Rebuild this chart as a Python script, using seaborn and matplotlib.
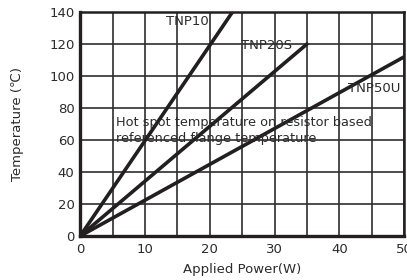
import pandas as pd
import matplotlib.pyplot as plt
import seaborn as sns

# end points of the three derating lines (W, degC)
series = ["TNP10", "TNP20S", "TNP50U"]
power_w = [[0, 23.5], [0, 35], [0, 50]]
temp_c = [[0, 140], [0, 120], [0, 112]]

x_ticks = [0, 10, 20, 30, 40, 50]
y_ticks = [0, 20, 40, 60, 80, 100, 120, 140]
note = "Hot spot temperature on resistor based\nreferenced flange temperature"

rows = []
for name, xs, ys in zip(series, power_w, temp_c):
    for x, y in zip(xs, ys):
        rows.append({"Series": name, "Power": x, "Temp": y})
df = pd.DataFrame(rows)

sns.set_style("white")
plt.rcParams["font.family"] = ["DejaVu Sans"]

fig = plt.figure(figsize=(4.07, 2.8), dpi=100)
ax = fig.add_axes([0.197, 0.157, 0.796, 0.8])

ink = "#231f20"
txt = "#2b2b2b"
sns.lineplot(data=df, x="Power", y="Temp", units="Series", estimator=None,
             color=ink, linewidth=2.6, ax=ax, legend=False)

ax.set_xlim(0, 50)
ax.set_ylim(0, 140)
ax.set_xticks(x_ticks)
ax.set_xticks(range(5, 50, 10), minor=True)
ax.set_yticks(y_ticks)
ax.set_xticklabels([str(t) for t in x_ticks], fontsize=9.5, color=txt)
ax.set_yticklabels([str(t) for t in y_ticks], fontsize=9.5, color=txt)
ax.grid(True, which="both", color="#2e2e2e", linewidth=1.2)
ax.tick_params(which="both", length=0)
ax.tick_params(axis="x", pad=5)
ax.tick_params(axis="y", pad=4)
ax.set_axisbelow(True)

for side in ["left", "bottom"]:
    ax.spines[side].set_linewidth(2.4)
for side in ["top", "right"]:
    ax.spines[side].set_linewidth(1.8)
for s in ax.spines.values():
    s.set_color(ink)

ax.set_xlabel("Applied Power(W)", fontsize=9.5, color=txt, labelpad=5)
ax.set_ylabel("Temperature (℃)", fontsize=9.5, color=txt, labelpad=18)

ax.text(13.2, 134, "TNP10", fontsize=9.5, color=txt, va="center")
ax.text(24.8, 119, "TNP20S", fontsize=9.5, color=txt, va="center")
ax.text(41.4, 92, "TNP50U", fontsize=9.5, color=txt, va="center")
ax.text(5.6, 66, note, fontsize=9.3, color=txt, va="center",
        linespacing=1.25)

fig.savefig("out.png", dpi=100)
